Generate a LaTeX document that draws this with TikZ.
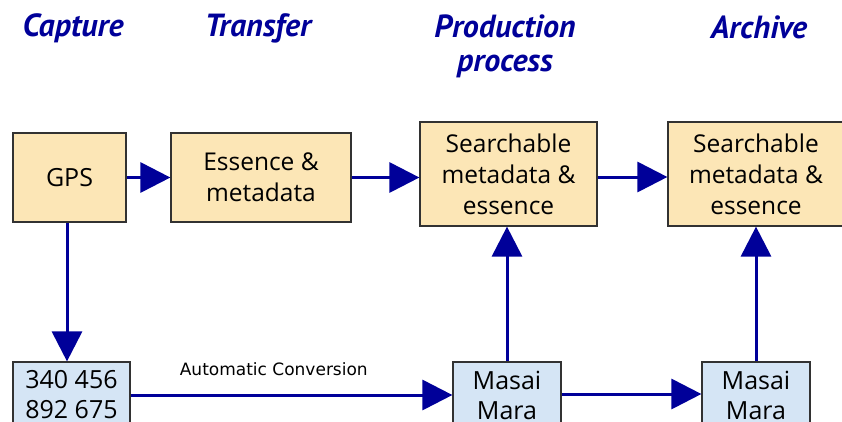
\documentclass[tikz,border=0pt]{standalone}
\usepackage{fontspec}
\setmainfont{Open Sans}
\newfontfamily\headfont{PT Sans}
\newfontfamily\notefont{DejaVu Sans}
\usetikzlibrary{arrows.meta}

\definecolor{flowblue}{RGB}{0,0,153}
\definecolor{tanfill}{RGB}{252,230,182}
\definecolor{skyfill}{RGB}{213,229,245}
\definecolor{boxline}{RGB}{50,50,50}

\tikzset{
  box/.style={draw=boxline, line width=1.2pt, inner sep=0pt, align=center},
  tanbox/.style={box, fill=tanfill},
  skybox/.style={box, fill=skyfill},
  flow/.style={draw=flowblue, line width=3pt, -{Triangle[length=30pt,width=30pt]}},
  heading/.style={text=flowblue, align=center, font=\headfont\bfseries\itshape\fontsize{32}{34}\selectfont},
  mid/.style={font=\fontsize{24.5}{31}\selectfont},
  big/.style={font=\fontsize{25}{30}\selectfont},
}

\begin{document}
\begin{tikzpicture}[x=1pt, y=-1pt]
  \useasboundingbox (0,0) rectangle (842,421);
  \clip (0,0) rectangle (842,421);

  % stage headings
  \node[heading] (hcap) at (73,28) {Capture};
  \node[heading] (htra) at (258,28) {Transfer};
  \node[heading] (hpro) at (505,46) {Production\\process};
  \node[heading] (harc) at (759,27) {Archive};

  % upper row
  \node[tanbox, big, minimum width=113pt, minimum height=89pt] (gps) at (69.5,177.5) {GPS};
  \node[tanbox, mid, minimum width=180pt, minimum height=89pt] (ess) at (261,177.5) {Essence \&\\metadata};
  \node[tanbox, mid, minimum width=177pt, minimum height=104pt] (srch1) at (508.5,174) {Searchable\\metadata \&\\essence};
  \node[tanbox, mid, minimum width=176pt, minimum height=104pt] (srch2) at (756,174) {Searchable\\metadata \&\\essence};

  % lower row
  \node[skybox, big, minimum width=117pt, minimum height=66pt] (num) at (71.5,395) {340 456\\892 675};
  \node[skybox, big, minimum width=108pt, minimum height=66pt] (mm1) at (507,395) {Masai\\Mara};
  \node[skybox, big, minimum width=108pt, minimum height=66pt] (mm2) at (756,395) {Masai\\Mara};

  % connectors
  \draw[flow] (gps.east) -- (ess.west);
  \draw[flow] (ess.east) -- (ess.east -| srch1.west);
  \draw[flow] ([yshift=-3pt]srch1.east) -- ([yshift=-3pt]srch1.east -| srch2.west);
  \draw[flow] ([xshift=-2.5pt]gps.south) -- ([xshift=-2.5pt]gps.south |- num.north);
  \draw[flow] (num.east) -- (num.east -| mm1.west)
    node[pos=0.445, yshift=26pt, text=black, font=\notefont\fontsize{17}{20}\selectfont] (conv) {Automatic Conversion};
  \draw[flow] ([yshift=1pt]mm1.east) -- ([yshift=1pt]mm1.east -| mm2.west);
  \draw[flow] (mm1.north) -- (mm1.north |- srch1.south);
  \draw[flow] (mm2.north) -- (mm2.north |- srch2.south);
\end{tikzpicture}
\end{document}
